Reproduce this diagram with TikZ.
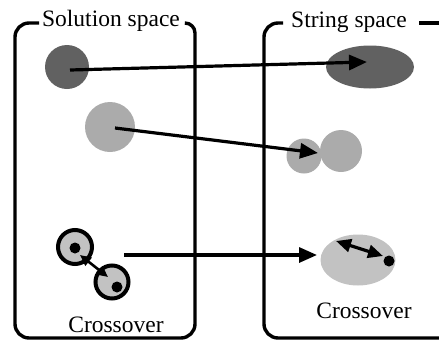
\documentclass[tikz,border=0pt]{standalone}
\usepackage{fontspec}
\setmainfont{Liberation Serif}
\usetikzlibrary{arrows.meta,shapes.geometric}
\begin{document}
\begin{tikzpicture}[x=1pt,y=-1pt,
  frame/.style={line width=3.4pt},
  lbl/.style={font=\fontsize{23.5}{28}\selectfont, anchor=base, inner sep=0pt},
  map/.style={line width=3.2pt, -{Triangle[length=18pt,width=15pt]}},
  blob/.style={circle, inner sep=0pt, draw=none},
  oval/.style={ellipse, inner sep=0pt, draw=none},
  dark/.style={fill=black!62},
  mid/.style={fill=black!33},
  light/.style={fill=black!24},
  xcirc/.style={circle, inner sep=0pt, draw=black, line width=4pt, fill=black!24},
  dot/.style={circle, inner sep=0pt, minimum size=11pt, fill=black},
  swap/.style={line width=2.6pt, {Triangle[length=11pt,width=10pt]}-{Triangle[length=11pt,width=10pt]}},
  swapr/.style={line width=3.2pt, {Triangle[length=15pt,width=13pt]}-{Triangle[length=15pt,width=13pt]}}]
\useasboundingbox (0,0) rectangle (439,343);
\clip (0,0) rectangle (439,343);

% frames
\draw[frame] (39,23) [rounded corners=14pt] -- (15,23) -- (15,338) -- (195,338)
  [rounded corners=10pt] -- (195,23) -- (186,23);
\draw[frame] (283,23) [rounded corners=14pt] -- (264,23) -- (264,338) -- (460,338);
\draw[frame] (419,23) -- (445,23);

% titles
\node[lbl] (tsol) at (111,26) {Solution space};
\node[lbl] (tstr) at (349,27) {String space};
\node[lbl] (tc1) at (116,332) {Crossover};
\node[lbl] (tc2) at (364,318) {Crossover};

% right-hand blobs
\node[oval, dark, minimum width=88pt, minimum height=43pt] (r1) at (370,67) {};
\node[blob, mid, minimum size=35pt] (r2a) at (304,156) {};
\node[blob, mid, minimum size=42pt] (r2b) at (341,151) {};
\node[oval, light, minimum width=75pt, minimum height=51pt] (r3) at (358,260) {};

% left-hand blobs
\node[blob, dark, minimum size=44pt] (l1) at (67,67) {};
\node[blob, mid, minimum size=50pt] (l2) at (110,127) {};
\node[xcirc, minimum size=34pt] (ca) at (75,247) {};
\node[xcirc, minimum size=33pt] (cb) at (112,282) {};

% crossover internals (left)
\node[dot] (da) at (75,248) {};
\node[dot] (db) at (117,287) {};
\coordinate (sa) at (80,255);
\coordinate (sb) at (108,277);
\draw[swap] (sa) -- (sb);

% crossover internals (right)
\coordinate (qa) at (336,241);
\coordinate (qb) at (383,256);
\draw[swapr] (qa) -- (qb);
\node[dot] (dq) at (389,261) {};

% mapping arrows
\coordinate (m1s) at (70,70);
\coordinate (m1e) at (367,62);
\coordinate (m2s) at (115,128);
\coordinate (m2e) at (318,153);
\coordinate (m3s) at (124,255);
\coordinate (m3e) at (317,255);
\draw[map] (m1s) -- (m1e);
\draw[map] (m2s) -- (m2e);
\draw[map] (m3s) -- (m3e);
\end{tikzpicture}
\end{document}
